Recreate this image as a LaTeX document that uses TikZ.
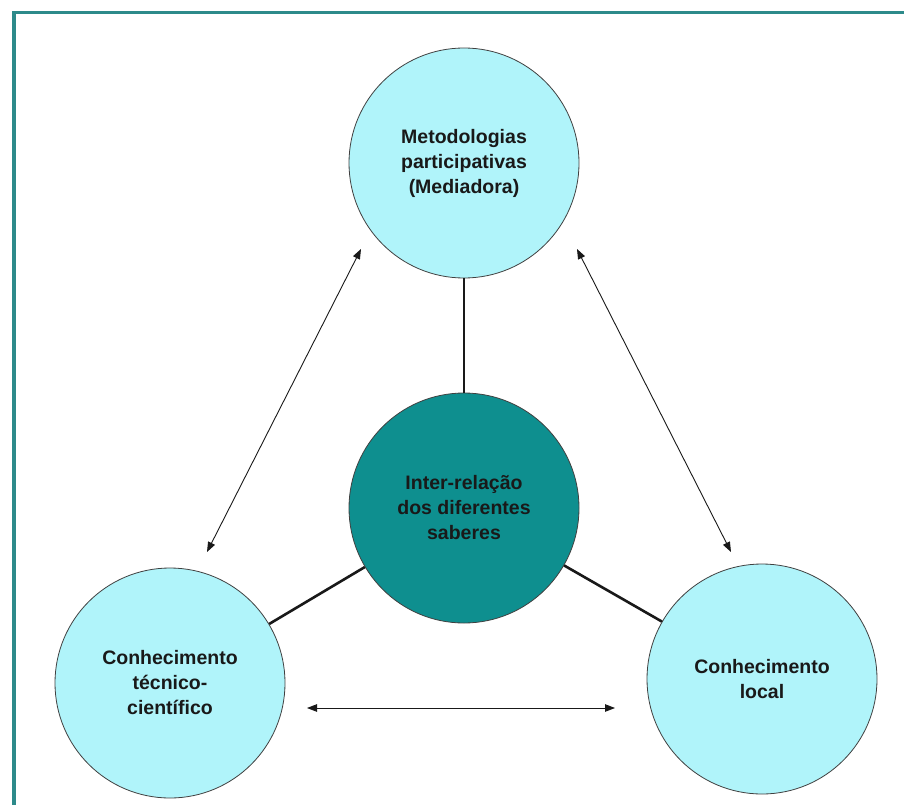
\documentclass[tikz,border=0pt]{standalone}
\usepackage{fontspec}
\setmainfont{Liberation Sans}
\usetikzlibrary{arrows.meta}
\definecolor{lightc}{RGB}{176,244,250}
\definecolor{tealc}{RGB}{14,143,143}
\definecolor{framec}{RGB}{45,138,138}
\begin{document}
\begin{tikzpicture}[x=1pt,y=-1pt,
  circ/.style={circle, draw=black!75, line width=0.8pt, minimum size=230pt, inner sep=0pt,
    align=center, font=\fontsize{19.5}{25}\selectfont\bfseries, text=black!90},
  link/.style={line width=2.6pt, black!90},
  dbl/.style={line width=0.9pt, black!90,
    {Triangle[length=10pt,width=7.5pt]}-{Triangle[length=10pt,width=7.5pt]}}]
\useasboundingbox (0,0) rectangle (904,805);
\begin{scope}
  \clip (0,0) rectangle (904,805);
  \draw[framec, line width=3.5pt] (14,12.5) rectangle (930,830);
\end{scope}
\node[circ, fill=lightc] (top) at (464,163) {Metodologias\\participativas\\(Mediadora)};
\node[circ, fill=tealc] (mid) at (464,508) {Inter-relação\\dos diferentes\\saberes};
\node[circ, fill=lightc] (left) at (170,683) {Conhecimento\\técnico-\\científico};
\node[circ, fill=lightc] (right) at (762,679) {Conhecimento\\local};
\draw[link] (top) -- (mid);
\draw[link] (mid) -- (left);
\draw[link] (mid) -- (right);
\coordinate (la) at (361,249);
\coordinate (lb) at (207,552);
\coordinate (ra) at (577,249);
\coordinate (rb) at (731,552);
\coordinate (ha) at (307,708);
\coordinate (hb) at (615,708);
\draw[dbl] (la) -- (lb);
\draw[dbl] (ra) -- (rb);
\draw[dbl] (ha) -- (hb);
\end{tikzpicture}
\end{document}
